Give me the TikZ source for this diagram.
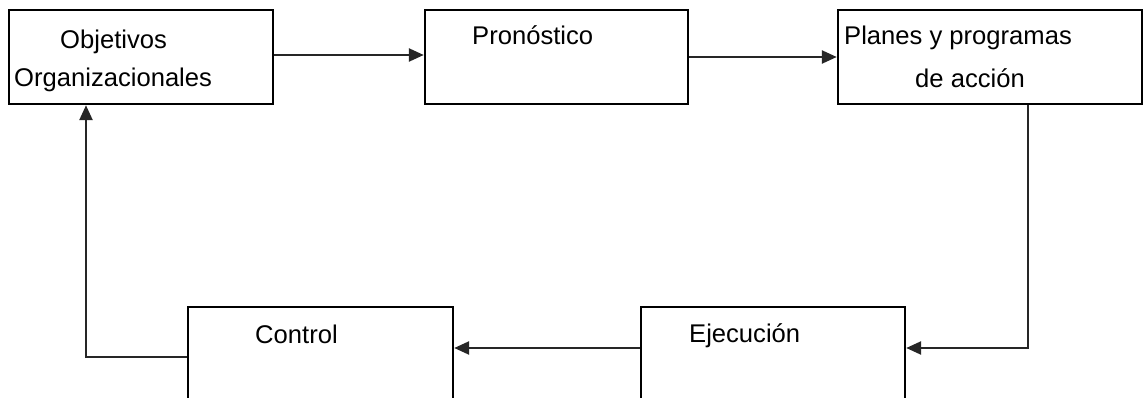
\documentclass[tikz,border=0pt]{standalone}
\usepackage{fontspec}
\setmainfont{Liberation Sans}
\usetikzlibrary{arrows.meta,calc}
\begin{document}
\begin{tikzpicture}[x=1pt,y=1pt,
  box/.style={draw=black,line width=2.4pt,rectangle,inner sep=0pt},
  lbl/.style={anchor=base west,inner sep=0pt,font=\fontsize{25.6}{30}\selectfont},
  conn/.style={draw=black!85,line width=2.4pt},
  arr/.style={conn,-{Triangle[length=15pt,width=13pt]}}]
\useasboundingbox (0,0) rectangle (1144,-398);
\begin{scope}
\clip (0,0) rectangle (1144,-398);
\node[box,minimum width=264pt,minimum height=94pt] (obj) at (141,-57) {};
\node[box,minimum width=263pt,minimum height=94pt] (pro) at (556.5,-57) {};
\node[box,minimum width=304pt,minimum height=94pt] (pla) at (990,-57) {};
\node[box,minimum width=264pt,minimum height=113pt] (eje) at (773,-363.5) {};
\node[box,minimum width=265pt,minimum height=113pt] (ctl) at (320.5,-363.5) {};
\end{scope}
\node[lbl] (t1) at (60,-49) {Objetivos};
\node[lbl] (t2) at (14,-87) {Organizacionales};
\node[lbl] (t3) at (472,-45) {Pronóstico};
\node[lbl] (t4) at (844,-45) {Planes y programas};
\node[lbl] (t5) at (915,-88) {de acción};
\node[lbl] (t6) at (689,-342) {Ejecución};
\node[lbl] (t7) at (255,-343) {Control};
\coordinate (c1) at (1028,-348);
\coordinate (c2) at (86,-357);
\draw[arr] ([yshift=2pt]obj.east) -- ([yshift=2pt]pro.west);
\draw[arr] (pro.east) -- (pla.west);
\draw[conn] (pla.south -| c1) -- (c1);
\draw[arr] ([xshift=1.2pt]c1) -- (eje.east |- c1);
\draw[arr] (eje.west |- c1) -- (ctl.east |- c1);
\draw[conn] (ctl.west |- c2) -- ([xshift=-1.2pt]c2);
\draw[arr] ([yshift=-1.2pt]c2) -- (obj.south -| c2);
\end{tikzpicture}
\end{document}
